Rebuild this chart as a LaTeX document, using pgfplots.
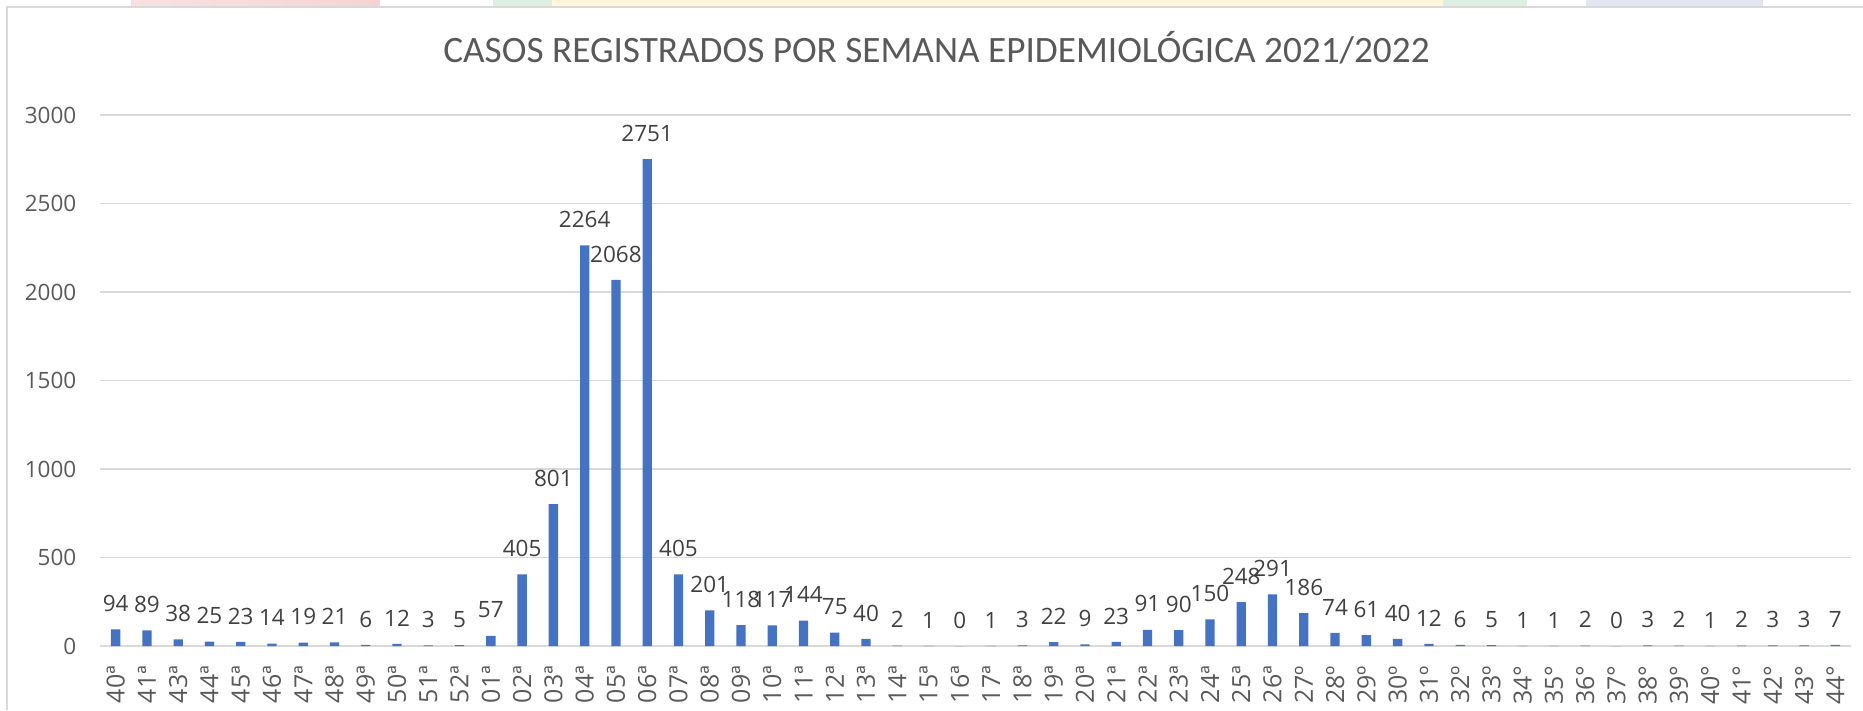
\documentclass[border=0pt]{standalone}
\usepackage{pgfplots}
\pgfplotsset{compat=1.18}
\usepackage{fontspec}
\setmainfont{Open Sans}
\newfontfamily\titlefont{Carlito}
\definecolor{barblue}{HTML}{4472C4}
\definecolor{txtgray}{HTML}{595959}
\definecolor{lblgray}{HTML}{404040}
\definecolor{gridgray}{HTML}{D9D9D9}
\definecolor{strippink}{HTML}{F9E1E1}
\definecolor{strippink2}{HTML}{F6D3D3}
\definecolor{stripgreen}{HTML}{DDEEE2}
\definecolor{stripyellow}{HTML}{FFF6DC}
\definecolor{stripblue}{HTML}{E3E5F0}
\begin{document}
\begin{tikzpicture}
\path[use as bounding box] (0,0) rectangle (18.63,7.10);
% faint decorative strips at the top
\fill[left color=strippink, right color=strippink2] (1.31,7.03) rectangle (3.80,7.10);
\fill[stripgreen] (4.93,7.03) rectangle (5.52,7.10);
\fill[stripyellow] (5.52,7.03) rectangle (14.43,7.10);
\fill[stripgreen] (14.43,7.03) rectangle (15.27,7.10);
\fill[stripblue] (15.86,7.03) rectangle (17.63,7.10);
% chart frame
\draw[gridgray, line width=0.6pt] (0.07,0) -- (0.07,7.03) -- (18.63,7.03);
% title
\node[anchor=base, inner sep=0pt, text=txtgray, font=\titlefont\fontsize{10.6}{12}\selectfont] at (9.365,6.473) {CASOS REGISTRADOS POR SEMANA EPIDEMIOLÓGICA 2021/2022};
\begin{axis}[
  at={(1.00cm,0.64cm)}, anchor=south west,
  scale only axis, width=17.51cm, height=5.31cm,
  xmin=-0.5, xmax=55.5, ymin=0, ymax=3000,
  ytick={0,500,1000,1500,2000,2500,3000},
  xtick={0,...,55},
  xticklabels={40ª,41ª,43ª,44ª,45ª,46ª,47ª,48ª,49ª,50ª,51ª,52ª,01ª,02ª,03ª,04ª,05ª,06ª,07ª,08ª,09ª,10ª,11ª,12ª,13ª,14ª,15ª,16ª,17ª,18ª,19ª,20ª,21ª,22ª,23ª,24ª,25ª,26ª,27º,28º,29º,30º,31º,32º,33º,34°,35°,36°,37°,38°,39°,40°,41°,42°,43°,44°},
  /pgf/number format/.cd, 1000 sep={}, assume math mode=true, /pgfplots/.cd,
  axis line style={draw=none},
  major tick length=0pt,
  tick style={draw=none},
  ymajorgrids, grid style={gridgray, line width=0.45pt},
  yticklabel style={font=\fontsize{6.4}{7}\selectfont, text=txtgray, anchor=east, inner sep=0pt, xshift=-0.23cm},
  xticklabel style={yshift=-0.19cm, font=\fontsize{7.1}{8}\selectfont, text=txtgray, rotate=90, anchor=east, inner sep=0pt},
  ybar, bar width=0.093cm,
  nodes near coords={\pgfmathprintnumber[fixed,precision=0,1000 sep={}]{\pgfplotspointmeta}},
  every node near coord/.append style={font=\fontsize{6.4}{7}\selectfont, text=lblgray, anchor=south, inner sep=0pt, yshift=0.17cm},
  clip=false,
]
\addplot[fill=barblue, draw=none] coordinates {
(0,94)(1,89)(2,38)(3,25)(4,23)(5,14)(6,19)(7,21)(8,6)(9,12)(10,3)(11,5)
(12,57)(13,405)(14,801)(15,2264)(16,2068)(17,2751)(18,405)(19,201)(20,118)(21,117)
(22,144)(23,75)(24,40)(25,2)(26,1)(27,0)(28,1)(29,3)(30,22)(31,9)(32,23)(33,91)
(34,90)(35,150)(36,248)(37,291)(38,186)(39,74)(40,61)(41,40)(42,12)(43,6)(44,5)
(45,1)(46,1)(47,2)(48,0)(49,3)(50,2)(51,1)(52,2)(53,3)(54,3)(55,7)
};
\end{axis}
\end{tikzpicture}
\end{document}
